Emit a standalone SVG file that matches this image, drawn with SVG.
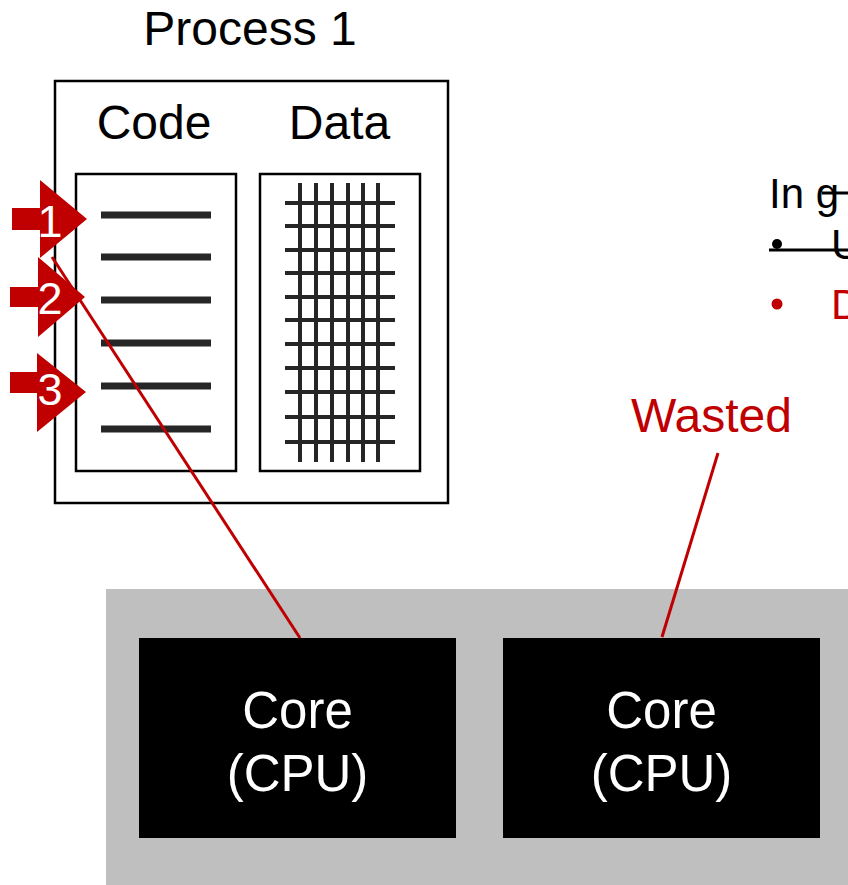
<svg xmlns="http://www.w3.org/2000/svg" width="848" height="885" viewBox="0 0 848 885">
  <style>
    .t { font-family: "Liberation Sans", Arial, sans-serif; }
    .lbl { font-size: 48px; text-anchor: middle; }
    .box { fill: #ffffff; stroke: #000000; stroke-width: 2.5; }
    .bar { stroke: #262626; stroke-width: 7; }
    .grid { stroke: #262626; stroke-width: 4; }
    .ptr { fill: #c00000; }
    .ptr-num { fill: #ffffff; font-size: 45px; text-anchor: middle; }
    .core { fill: #000000; }
    .core-txt { fill: #ffffff; font-size: 51px; text-anchor: middle; }
    .link { stroke: #c00000; stroke-width: 3; fill: none; }
  </style>

  <rect width="848" height="885" fill="#ffffff"/>

  <!-- Process 1 address space -->
  <g id="process1">
    <text class="t lbl" x="250" y="45">Process 1</text>
    <rect class="box" x="55" y="81" width="393" height="422"/>
    <text class="t lbl" x="154" y="139">Code</text>
    <text class="t lbl" x="339.5" y="139">Data</text>
  </g>

  <!-- Code segment: instruction lines -->
  <g id="code">
    <rect class="box" x="76" y="174" width="160" height="297"/>
    <g class="bar">
      <line x1="101" y1="215" x2="211" y2="215"/>
      <line x1="101" y1="257" x2="211" y2="257"/>
      <line x1="101" y1="300" x2="211" y2="300"/>
      <line x1="101" y1="343" x2="211" y2="343"/>
      <line x1="101" y1="386" x2="211" y2="386"/>
      <line x1="101" y1="429" x2="211" y2="429"/>
    </g>
  </g>

  <!-- Data segment: memory grid -->
  <g id="data">
    <rect class="box" x="260" y="174" width="160" height="297"/>
    <g class="grid">
      <line x1="300" y1="183" x2="300" y2="462"/>
      <line x1="316" y1="183" x2="316" y2="462"/>
      <line x1="332" y1="183" x2="332" y2="462"/>
      <line x1="348" y1="183" x2="348" y2="462"/>
      <line x1="363" y1="183" x2="363" y2="462"/>
      <line x1="378" y1="183" x2="378" y2="462"/>
      <line x1="285" y1="203" x2="395" y2="203"/>
      <line x1="285" y1="226" x2="395" y2="226"/>
      <line x1="285" y1="250" x2="395" y2="250"/>
      <line x1="285" y1="273" x2="395" y2="273"/>
      <line x1="285" y1="297" x2="395" y2="297"/>
      <line x1="285" y1="320" x2="395" y2="320"/>
      <line x1="285" y1="344" x2="395" y2="344"/>
      <line x1="285" y1="368" x2="395" y2="368"/>
      <line x1="285" y1="392" x2="395" y2="392"/>
      <line x1="285" y1="417" x2="395" y2="417"/>
      <line x1="285" y1="442" x2="395" y2="442"/>
    </g>
  </g>

  <!-- Instruction pointers -->
  <g id="ptr1">
    <polygon class="ptr" points="12,208 40,208 40,180 87,219 40,258 40,230 12,230"/>
    <text class="t ptr-num" x="50" y="237">1</text>
  </g>
  <g id="ptr2">
    <polygon class="ptr" points="10,287 38,287 38,257 85,297 38,337 38,307 10,307"/>
    <text class="t ptr-num" x="50" y="314">2</text>
  </g>
  <g id="ptr3">
    <polygon class="ptr" points="10,372 37,372 37,353 86,392 37,432 37,393 10,393"/>
    <text class="t ptr-num" x="50" y="405">3</text>
  </g>

  <!-- Processor with two cores -->
  <g id="processor">
    <rect x="106" y="589" width="742" height="296" fill="#bfbfbf"/>
  </g>
  <g id="core1">
    <rect class="core" x="139" y="638" width="317" height="200"/>
    <text class="t core-txt" x="297.5" y="728">Core</text>
    <text class="t core-txt" x="297.5" y="791">(CPU)</text>
  </g>
  <g id="core2">
    <rect class="core" x="503" y="638" width="317" height="200"/>
    <text class="t core-txt" x="661.5" y="728">Core</text>
    <text class="t core-txt" x="661.5" y="791">(CPU)</text>
  </g>

  <g id="wasted-label">
    <text class="t lbl" x="711.5" y="432" fill="#c00000">Wasted</text>
  </g>

  <!-- Side notes, running off the right edge -->
  <g id="notes">
    <text class="t" x="769" y="208" font-size="42">In g</text>
    <line x1="822" y1="193" x2="848" y2="193" stroke="#000000" stroke-width="3"/>
    <circle cx="777" cy="244" r="5" fill="#000000"/>
    <text class="t" x="831" y="259" font-size="42">U</text>
    <line x1="769" y1="250" x2="848" y2="250" stroke="#000000" stroke-width="3"/>
    <circle cx="777" cy="304" r="5.5" fill="#c00000"/>
    <text class="t" x="831" y="319" font-size="42" fill="#c00000">D</text>
  </g>

  <!-- Connectors -->
  <g id="connectors">
    <line class="link" x1="52" y1="257" x2="300" y2="638"/>
    <line class="link" x1="718" y1="453" x2="662" y2="637"/>
  </g>
</svg>
